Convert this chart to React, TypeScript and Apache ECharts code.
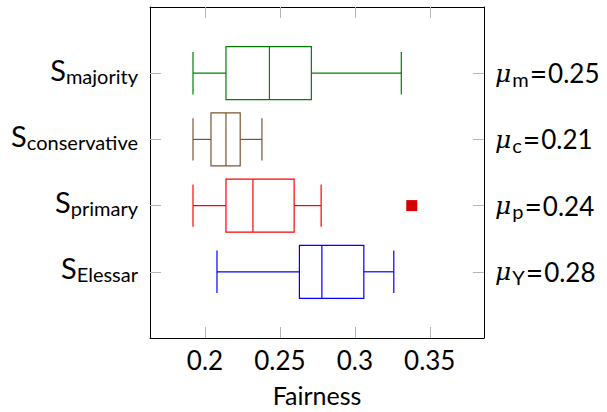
import React, { useEffect, useRef } from "react";
import * as echarts from "echarts";

const categories = ["majority", "conservative", "primary", "Elessar"];
const whiskerLow = [0.192, 0.192, 0.192, 0.208];
const quartile1 = [0.214, 0.204, 0.214, 0.263];
const medians = [0.243, 0.214, 0.232, 0.278];
const quartile3 = [0.271, 0.2235, 0.2595, 0.306];
const whiskerHigh = [0.331, 0.238, 0.2775, 0.326];
const meanSubs = ["m", "c", "p", "Y"];
const meanValues = ["0.25", "0.21", "0.24", "0.28"];
const outliers: [number, number][] = [[0.338, 3]];
const xTicks = [0.2, 0.25, 0.3, 0.35];
const boxColors = ["#008000", "#7a5530", "#ff0000", "#0000ff"];

const FONT = "Lato";
const TICK_GRAY = "#b5b5b5";

export default function App() {
  const ref = useRef<HTMLDivElement>(null);
  useEffect(() => {
    document.body.style.margin = "0";
    const chart = echarts.init(ref.current!, null, { renderer: "svg" });
    const rows = categories.map((_, i) => [
      i + 1,
      whiskerLow[i],
      quartile1[i],
      medians[i],
      quartile3[i],
      whiskerHigh[i],
    ]);
    const yPos = categories.map((_, i) => i + 1);
    const yAxisCommon = {
      type: "value",
      min: 0,
      max: 5,
      inverse: true,
      splitLine: { show: false },
      axisLine: { show: true, lineStyle: { color: "#000", width: 1 } },
      axisTick: {
        show: true,
        inside: true,
        length: 11,
        customValues: yPos,
        lineStyle: { color: TICK_GRAY, width: 1 },
      },
    };
    chart.setOption({
      animation: false,
      grid: { left: 150, right: 123, top: 7, bottom: 70 },
      xAxis: [
        {
          type: "value",
          position: "bottom",
          min: 0.1633,
          max: 0.3862,
          splitLine: { show: false },
          axisLine: { show: true, onZero: false, lineStyle: { color: "#000", width: 1 } },
          axisTick: {
            show: true,
            inside: true,
            length: 11,
            customValues: xTicks,
            lineStyle: { color: TICK_GRAY, width: 1 },
          },
          axisLabel: {
            customValues: xTicks,
            margin: 9,
            fontFamily: FONT,
            fontSize: 26,
            color: "#000",
            formatter: (v: number) => String(Math.round(v * 1000) / 1000),
          },
          name: "Fairness",
          nameLocation: "middle",
          nameGap: 44,
          nameTextStyle: { fontFamily: FONT, fontSize: 25, color: "#000" },
        },
        {
          type: "value",
          position: "top",
          min: 0.1633,
          max: 0.3862,
          splitLine: { show: false },
          axisLine: { show: true, onZero: false, lineStyle: { color: "#000", width: 1 } },
          axisTick: {
            show: true,
            inside: true,
            length: 11,
            customValues: xTicks,
            lineStyle: { color: TICK_GRAY, width: 1 },
          },
          axisLabel: { show: false },
        },
      ],
      yAxis: [
        {
          ...yAxisCommon,
          position: "left",
          axisLabel: {
            customValues: yPos,
            margin: 12,
            padding: [0, 0, 8, 0],
            formatter: (v: number) => `{s|S}{sub|${categories[Math.round(v) - 1]}}`,
            rich: {
              s: { fontFamily: FONT, fontSize: 29, color: "#000" },
              sub: { fontFamily: FONT, fontSize: 20, color: "#000", padding: [13, 0, 0, 0] },
            },
          },
        },
        {
          ...yAxisCommon,
          position: "right",
          axisLabel: {
            customValues: yPos,
            margin: 11,
            formatter: (v: number) => {
              const i = Math.round(v) - 1;
              return `{mu|μ}{sub|${meanSubs[i]}}{eq|=}{num|${meanValues[i]}}`;
            },
            rich: {
              mu: { fontFamily: "DejaVu Serif", fontStyle: "italic", fontSize: 25, color: "#000", padding: [0, 1, 0, 0] },
              sub: { fontFamily: FONT, fontSize: 20, color: "#000", padding: [11, 0, 0, 0] },
              eq: { fontFamily: FONT, fontSize: 30, color: "#000", padding: [0, 1, 0, 1] },
              num: { fontFamily: FONT, fontSize: 26, color: "#000" },
            },
          },
        },
      ],
      series: [
        {
          type: "custom",
          xAxisIndex: 0,
          yAxisIndex: 0,
          data: rows,
          encode: { x: [1, 2, 3, 4, 5], y: 0 },
          renderItem: (params: any, api: any) => {
            const y = api.value(0);
            const idx = params.dataIndex;
            const color = boxColors[idx];
            const unit = api.size([0, 1])[1];
            const boxHalf = unit * 0.4;
            const capHalf = unit * 0.32;
            const pLow = api.coord([api.value(1), y]);
            const pQ1 = api.coord([api.value(2), y]);
            const pMed = api.coord([api.value(3), y]);
            const pQ3 = api.coord([api.value(4), y]);
            const pHigh = api.coord([api.value(5), y]);
            const cy = pLow[1];
            const ls = { stroke: color, lineWidth: 1.2, fill: null };
            return {
              type: "group",
              children: [
                { type: "line", shape: { x1: pLow[0], y1: cy, x2: pQ1[0], y2: cy }, style: ls },
                { type: "line", shape: { x1: pQ3[0], y1: cy, x2: pHigh[0], y2: cy }, style: ls },
                { type: "line", shape: { x1: pLow[0], y1: cy - capHalf, x2: pLow[0], y2: cy + capHalf }, style: ls },
                { type: "line", shape: { x1: pHigh[0], y1: cy - capHalf, x2: pHigh[0], y2: cy + capHalf }, style: ls },
                {
                  type: "rect",
                  shape: { x: pQ1[0], y: cy - boxHalf, width: pQ3[0] - pQ1[0], height: boxHalf * 2 },
                  style: { stroke: color, lineWidth: 1.2, fill: "none" },
                },
                { type: "line", shape: { x1: pMed[0], y1: cy - boxHalf, x2: pMed[0], y2: cy + boxHalf }, style: ls },
              ],
            };
          },
        },
        {
          type: "scatter",
          xAxisIndex: 0,
          yAxisIndex: 0,
          symbol: "rect",
          symbolSize: 11,
          itemStyle: { color: "#d40000", opacity: 1 },
          data: outliers,
        },
      ],
    });
    return () => chart.dispose();
  }, []);
  return <div ref={ref} style={{ width: 607, height: 412 }} />;
}
